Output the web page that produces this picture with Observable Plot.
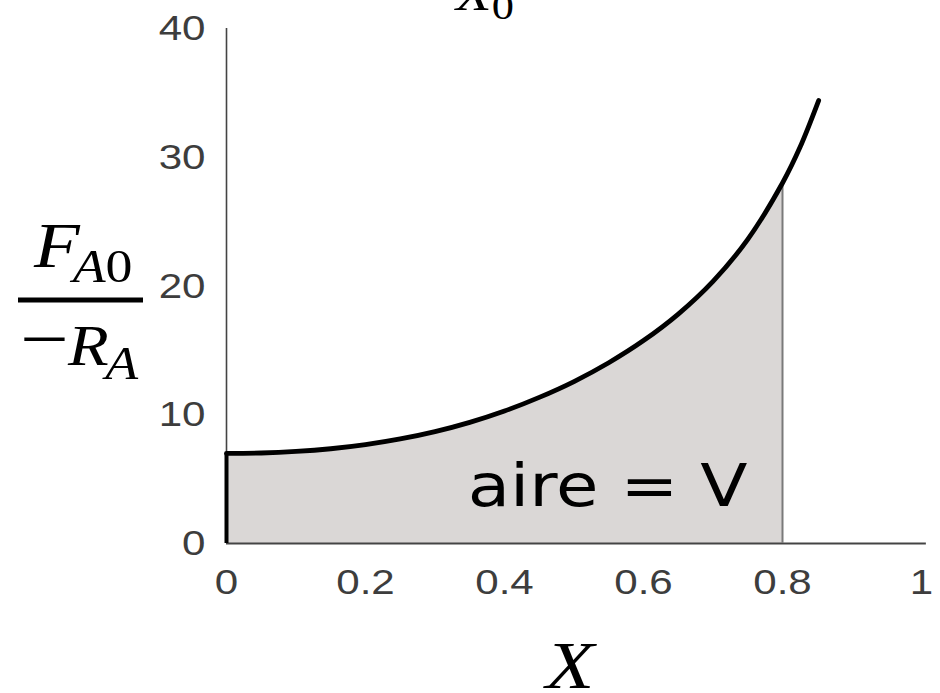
<!DOCTYPE html>
<html>
<head>
<meta charset="utf-8">
<script src="https://cdn.jsdelivr.net/npm/d3@7"></script>
<script src="https://cdn.jsdelivr.net/npm/@observablehq/plot@0.6"></script>
<style>
  html, body { margin: 0; padding: 0; background: #fff; }
  #chart { width: 940px; height: 693px; overflow: hidden; }
</style>
</head>
<body>
<div id="chart"></div>
<script>
// Levenspiel plot: F_A0 / (-r_A) against conversion X
const conversion = [0, 0.05, 0.1, 0.15, 0.2, 0.25, 0.3, 0.35, 0.4, 0.45, 0.5, 0.55, 0.6, 0.65, 0.7, 0.75, 0.8, 0.825, 0.852];
const ratio      = [7.0, 7.03, 7.15, 7.36, 7.68, 8.12, 8.69, 9.41, 10.29, 11.35, 12.58, 14.04, 15.76, 17.82, 20.36, 23.62, 28.0, 30.75, 34.4];

// conversion reached in the reactor (right edge of the shaded area)
const exitConversion = 0.8;

const xTicks = [0, 0.2, 0.4, 0.6, 0.8, 1];
const xTickLabels = ["0", "0.2", "0.4", "0.6", "0.8", "1"];
const yTicks = [0, 10, 20, 30, 40];
const yTickLabels = ["0", "10", "20", "30", "40"];

const areaLabel = ["aire = V"];

const curve = conversion.map((x, i) => ({x, y: ratio[i]}));
const shaded = curve.filter(d => d.x <= exitConversion + 1e-9);
const atExit = shaded[shaded.length - 1];

const stretch = 1.17; // horizontal stretch of all lettering

const plot = Plot.plot({
  width: 940,
  height: 693,
  marginLeft: 226,
  marginRight: 19,
  marginTop: 28,
  marginBottom: 150,
  style: {
    fontFamily: "'Liberation Sans', Arial, sans-serif",
    fontSize: "36px",
    color: "#3d3d3d",
    background: "#fff",
    overflow: "visible"
  },
  x: {
    domain: [0, 1],
    ticks: xTicks,
    tickFormat: d => xTickLabels[xTicks.indexOf(d)],
    tickSize: 0,
    tickPadding: 25,
    label: null
  },
  y: {
    domain: [0, 40],
    ticks: yTicks,
    tickFormat: d => yTickLabels[yTicks.indexOf(d)],
    tickSize: 0,
    tickPadding: 21,
    label: null
  },
  marks: [
    Plot.areaY(shaded, {x: "x", y: "y", fill: "#dad7d6", curve: "catmull-rom"}),
    Plot.ruleX([0], {y1: 0, y2: 40, stroke: "#444", strokeWidth: 1.6}),
    Plot.ruleY([0], {x1: 0, x2: 1.007, stroke: "#444", strokeWidth: 2}),
    Plot.ruleX([atExit], {x: "x", y1: 0, y2: "y", stroke: "#7a7a7a", strokeWidth: 2}),
    Plot.ruleX([curve[0]], {x: "x", y1: 0, y2: "y", stroke: "#000", strokeWidth: 4}),
    Plot.line(curve, {x: "x", y: "y", stroke: "#000", strokeWidth: 4.8, curve: "catmull-rom"}),
    Plot.text(areaLabel, {
      x: 0.347, y: 2.95, text: d => d,
      textAnchor: "start", lineAnchor: "bottom",
      fontFamily: "'DejaVu Sans', Verdana, sans-serif",
      fontSize: 59, fill: "#000"
    })
  ]
});

document.getElementById("chart").appendChild(plot);

const svg = d3.select(plot);
const serif = "'Liberation Serif', 'Times New Roman', serif";

// y-axis title: F_A0 over -R_A
const yTitle = svg.append("g").attr("aria-label", "y-axis title")
  .attr("fill", "#000").attr("text-anchor", "start").attr("font-family", serif);
const num = yTitle.append("text").attr("transform", "translate(34,267)").attr("font-size", 64);
num.append("tspan").attr("font-style", "italic").text("F");
num.append("tspan").attr("font-style", "italic").attr("font-size", 46).attr("dx", -6).attr("dy", 15).text("A");
num.append("tspan").attr("font-size", 46).text("0");
yTitle.append("line").attr("x1", 18).attr("x2", 143).attr("y1", 300).attr("y2", 300)
  .attr("stroke", "#000").attr("stroke-width", 5);
yTitle.append("text").attr("transform", "translate(20,364)").attr("font-size", 74).text("\u2212");
const den = yTitle.append("text").attr("transform", "translate(68,365)").attr("font-size", 57);
den.append("tspan").attr("font-style", "italic").text("R");
den.append("tspan").attr("font-style", "italic").attr("font-size", 46).attr("dx", -3).attr("dy", 14).text("A");

// x-axis title
svg.append("text").attr("aria-label", "x-axis title")
  .attr("transform", "translate(570,688)")
  .attr("text-anchor", "middle").attr("font-family", serif)
  .attr("font-style", "italic").attr("font-size", 68).attr("fill", "#000").text("X");

// integral limit running off the top edge
const lim = svg.append("text").attr("transform", "translate(456,10)")
  .attr("text-anchor", "start").attr("font-family", serif)
  .attr("font-size", 50).attr("fill", "#000");
lim.append("tspan").attr("font-style", "italic").text("X");
lim.append("tspan").attr("font-size", 38).attr("dy", 9).text("0");

// widen every piece of text about its anchor
svg.selectAll("text").each(function() {
  const t = this.getAttribute("transform");
  if (t) this.setAttribute("transform", `${t} scale(${stretch},1)`);
});
</script>
</body>
</html>
